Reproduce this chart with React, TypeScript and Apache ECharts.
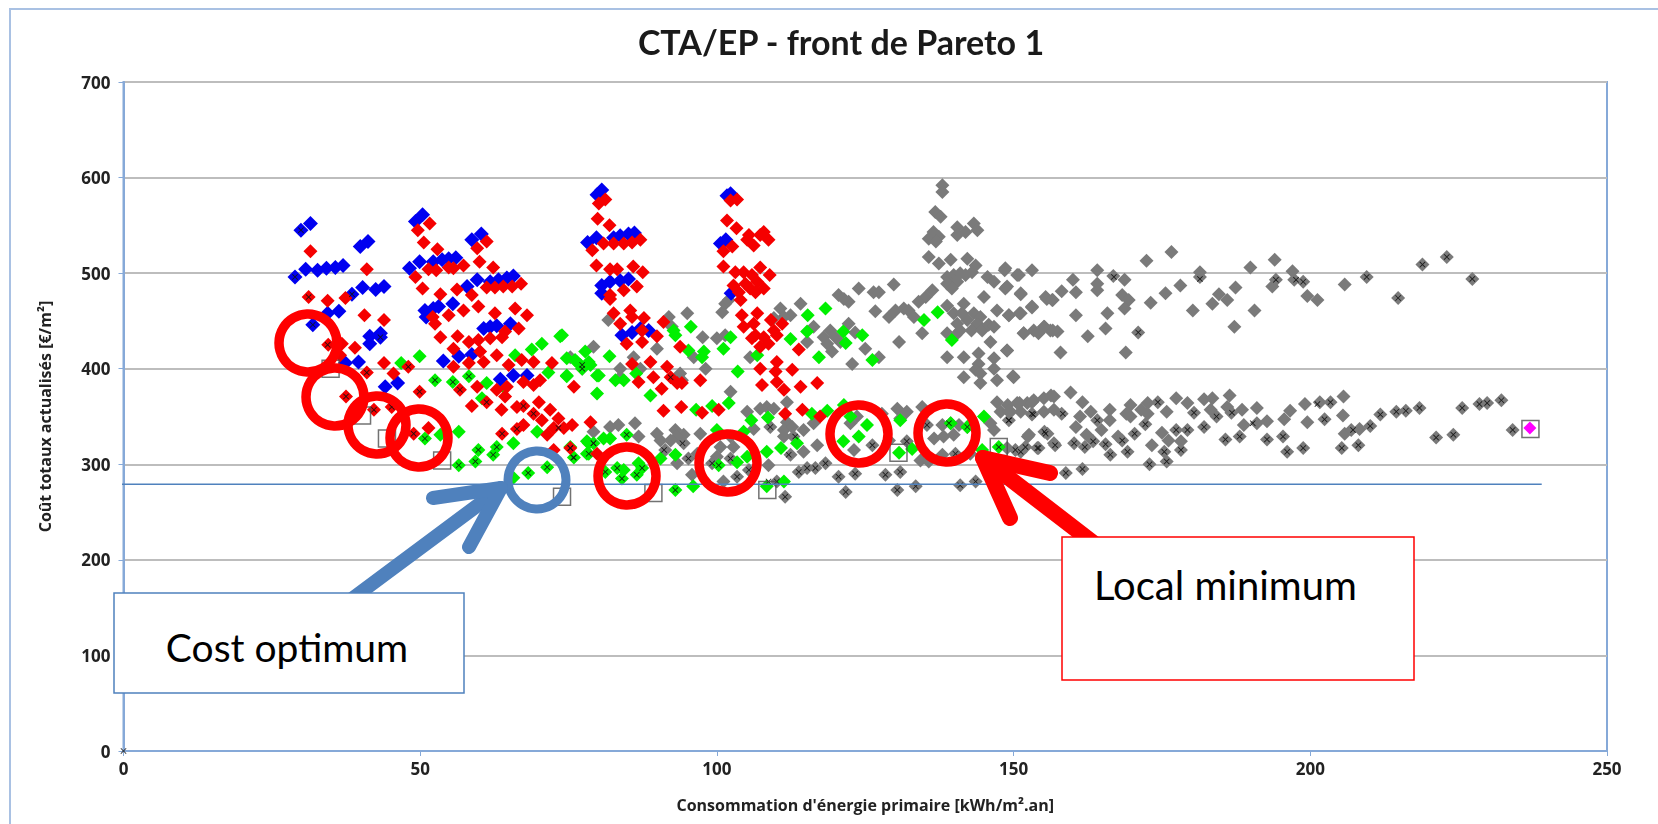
import React, { useEffect, useRef } from "react";
import * as echarts from "echarts";

const titleText = "CTA/EP - front de Pareto 1";
const xAxisName = "Consommation d'énergie primaire [kWh/m².an]";
const yAxisName = "Coût totaux actualisés [€/m²]";

const blue = [[29.9,545],[31.5,552],[28.9,496],[30.7,504],[32.7,503],[34.2,505],[35.7,506],[37,508],[39.9,528],[41.2,533],[38.5,478],[40.3,485],[42.5,483],[43.9,486],[34.4,458],[36.3,460],[31.9,446],[41.5,434],[43.3,437],[41.5,426],[43.3,433],[37.4,406],[39.6,407],[44.1,381],[46.2,385],[49.2,554],[50.4,561],[48.2,505],[49.9,512],[52.2,512],[53.7,514],[54.8,515],[56,516],[50.8,461],[53.1,465],[55.5,468],[51,454],[52.2,463],[53.9,408],[56.5,413],[58.7,415],[58.7,535],[60.3,541],[57.9,486],[59.6,493],[61.8,491],[63.2,493],[64.6,495],[65.7,497],[60.7,442],[62.9,445],[65.2,447],[61.8,444],[63.5,389],[65.7,393],[68,393],[79.8,582],[80.6,587],[78.2,532],[79.7,537],[82.6,537],[83.7,539],[85.1,541],[86.1,542],[80.6,487],[82,491],[83.7,492],[85.1,494],[80.6,479],[84,435],[85.7,438],[88.5,440],[87.1,442],[102.3,583],[101.7,581],[100.6,531],[101.5,535],[102.4,479]];

const red = [[31.5,523],[31.2,475],[34.4,471],[37.4,474],[41,504],[40.6,456],[43.9,451],[34.5,425],[36.8,426],[39,422],[41,396],[43.9,406],[45.5,395],[48,402],[37.5,371],[36.5,414],[42.2,357],[45.2,360],[49.9,376],[48.9,332],[51.4,338],[49.6,545],[51.6,552],[50.6,532],[52.9,525],[51.4,504],[52.7,503],[54.8,506],[55.6,505],[57.3,508],[49.2,496],[50.4,484],[53.4,478],[56.2,483],[58.7,477],[59.8,465],[57.3,461],[54.8,456],[52.1,454],[52.5,447],[53.4,433],[56.3,434],[55.6,421],[58.2,428],[59.8,430],[60.7,407],[58.2,406],[55.6,402],[60.1,418],[56.7,378],[59.6,381],[61.2,365],[58.7,361],[63.7,357],[62.9,378],[64.3,371],[62.9,414],[61.8,432],[63.8,433],[64.3,439],[66,463],[68,456],[66.6,442],[62.6,458],[59.6,526],[61.2,533],[60,512],[62.3,506],[61.2,485],[62.6,485],[64,486],[65.5,486],[67,489],[64.9,404],[67.1,409],[69.1,407],[72.2,406],[64.6,381],[67.4,386],[69.1,383],[70.2,388],[66.3,360],[67.4,361],[70,365],[69.1,353],[71.9,357],[70.5,346],[73.3,348],[67.4,341],[66.3,337],[63.8,332],[71.4,331],[72.5,338],[74.2,338],[75.6,341],[78.7,344],[75.3,317],[72.5,315],[79.8,311],[75.9,381],[79.9,557],[81.9,550],[81.2,577],[80.1,573],[79,524],[80.9,531],[82.6,531],[84.3,531],[85.7,532],[87.1,535],[79.7,508],[82,504],[83.2,504],[85.9,507],[87.5,501],[82,477],[84.3,482],[86.5,486],[82,473],[82.6,458],[85.4,461],[87.7,453],[83.7,447],[85.7,454],[91,449],[87.4,440],[89.9,434],[84.8,426],[87.4,428],[93.8,423],[85.7,405],[88.8,407],[91.6,402],[97.2,388],[86.8,386],[89.3,391],[90.7,379],[92.2,391],[94.1,385],[93.3,385],[91,356],[94,360],[97.5,354],[100.3,357],[102.3,576],[103.4,577],[101.7,555],[103.3,547],[102.6,528],[101.1,523],[105.1,535],[106.2,529],[107.3,540],[108.7,535],[105.4,540],[107.9,543],[101.1,507],[103.1,501],[104.5,501],[107.3,506],[108.9,498],[105.9,498],[102.8,487],[104.8,489],[106.8,491],[107.9,484],[105.6,484],[103.7,480],[106.5,480],[104,472],[104.2,456],[106.8,458],[109.1,451],[111,447],[104.5,444],[106.2,447],[109.6,440],[106.5,435],[107.9,433],[105.9,432],[108.7,426],[107.3,423],[110.1,435],[113.8,420],[110.1,407],[107.3,400],[109.9,397],[112.7,399],[116.9,385],[107.6,383],[110.1,386],[111.3,378],[114.1,381],[114.4,357],[111.5,353],[117.4,350]];

const green = [[46.8,406],[49.9,413],[52.5,388],[55.5,386],[58.2,392],[61.2,385],[60.4,369],[50.8,327],[53.4,331],[56.5,334],[56.5,299],[59.3,303],[59.8,315],[62.3,310],[62.9,318],[65.7,322],[69.7,334],[65.7,286],[68.2,291],[71.4,297],[73.6,434],[70.5,426],[68.8,420],[66,414],[64,381],[71.6,396],[74.7,392],[74.7,411],[76.4,407],[77.8,418],[78.7,404],[77.3,400],[79.8,374],[79.8,393],[78.1,324],[79.2,322],[75.3,318],[75.9,307],[78.4,311],[73.9,435],[76.1,409],[78.4,407],[77,404],[74.7,393],[80.1,393],[81.9,413],[84.3,388],[88.8,372],[78.4,322],[80.9,327],[82,327],[84.8,331],[78.1,311],[81.2,292],[83.2,296],[84.3,294],[86.8,301],[87.4,296],[84,285],[86.5,289],[93,310],[90.5,306],[93,273],[96,277],[96.5,357],[99.2,361],[102,364],[100,336],[104.5,334],[105.8,346],[108.6,349],[100.3,299],[103.4,302],[105.1,308],[108.4,313],[110.8,317],[108.4,277],[111.3,282],[116,353],[118.6,356],[121.4,362],[113.5,322],[122.5,350],[125.3,341],[123.9,329],[121.3,324],[130.7,312],[132.9,316],[145,350],[139.4,343],[142.2,339],[144.7,315],[147.5,318],[130.9,346],[92.7,440],[93,435],[95.6,444],[103.5,397],[97.8,418],[97.5,412],[95.2,419],[101.1,421],[102.3,433],[112.4,431],[115.2,439],[115.3,456],[118.3,463],[117.2,412],[121.3,439],[121.7,427],[124.5,435],[126.2,409],[134.9,451],[137.2,459],[139.6,430],[106.8,414],[86.4,395],[82.9,388]];

const grey = [[138,592],[138,585],[136.8,564],[137.7,559],[136.5,543],[135.7,536],[137.4,538],[136.9,533],[140.5,548],[140.5,540],[141.9,543],[143.3,552],[143.9,545],[135.7,517],[137.4,510],[139.4,514],[142.2,515],[143.6,508],[138.8,496],[139.9,498],[141,500],[139.4,489],[140.5,491],[141.9,498],[143,501],[138.8,489],[139.6,484],[145.6,496],[146.7,491],[148.6,505],[148.6,484],[150.9,498],[153.1,503],[151.2,479],[136.3,482],[135.2,475],[134,470],[131.5,463],[130.1,461],[132.3,461],[133.2,454],[126.7,460],[129,454],[129.8,488],[126.4,480],[123.9,484],[120.5,477],[122.2,470],[121.4,473],[127.3,480],[138.8,466],[145,475],[141.6,468],[139.9,458],[141.3,458],[143.3,458],[144.4,454],[140.5,447],[142.2,451],[143.9,447],[141,440],[142.9,440],[144.7,440],[145.8,446],[146.7,444],[138.8,437],[147.2,461],[149.2,456],[151.2,458],[153.1,465],[155.4,475],[156.5,472],[151.7,437],[153.4,440],[155.1,444],[156.2,440],[157.4,439],[146.1,428],[148.9,419],[140.2,435],[138.8,412],[141.6,412],[144.1,416],[146.7,411],[144.1,405],[143.6,399],[144.4,395],[141.6,391],[146.7,400],[144.4,385],[147.2,388],[150,391],[130.7,428],[134.6,437],[125,421],[127.3,412],[122.8,405],[122.2,447],[123.3,438],[116.3,444],[119.1,440],[118,433],[120,433],[118.6,426],[120.8,428],[119.4,418],[115.2,428],[114.1,468],[110.7,463],[112.4,456],[109.6,453],[111.3,454],[101.4,468],[100.9,459],[102,472],[100,432],[101.4,435],[105.6,412],[95,458],[91.9,454],[97.6,433],[92.4,444],[89.9,421],[96.1,412],[98.1,400],[93.8,395],[94.1,388],[87.1,400],[85.97,412],[83.7,400],[83.7,391],[79.2,423],[75.3,412],[77.3,400],[81.7,451],[102.3,376],[108.4,360],[107.3,358],[109.6,358],[105.1,355],[111.8,365],[79.2,334],[82,339],[83.4,341],[86.2,343],[86.8,329],[89.9,332],[90.5,325],[93,336],[94.4,331],[93.3,329],[92.2,325],[94.4,322],[97.2,332],[96.7,311],[93.3,301],[95.2,306],[91.3,315],[95.8,289],[100.6,318],[102.3,329],[102.8,318],[100,308],[102.3,306],[99.2,301],[101.1,282],[103.4,287],[105.4,294],[108.7,299],[109,339],[106.2,337],[111.8,344],[111.3,336],[112.7,339],[114.6,336],[116.3,343],[112.9,329],[111.3,329],[116.9,320],[114.6,313],[112.4,310],[111.5,266],[110.1,282],[118.3,301],[113.8,292],[115.2,296],[116.6,296],[120.5,287],[123.3,290],[121.7,271],[128.4,289],[130.9,292],[130.4,273],[133.5,277],[141,278],[143.6,282],[123.1,315],[126.2,320],[122.5,343],[123.6,350],[130.4,358],[132,355],[130.9,348],[134.6,360],[127.8,353],[129,325],[132,324],[135.4,341],[136.6,327],[138.2,329],[139.9,331],[138,341],[139.4,343],[140.8,341],[142.2,339],[134.3,304],[135.7,303],[138,310],[140.2,311],[142.7,311],[146.1,343],[147.2,365],[149,362],[150.6,364],[152.3,364],[153.4,367],[155.1,369],[156.8,371],[147.8,355],[149.5,355],[151.2,355],[153.1,353],[155.1,355],[156.8,357],[149.2,346],[152.6,331],[155.7,332],[156.8,322],[148.9,317],[151.2,313],[154,317],[146.7,336],[148.5,503],[150.6,498],[148.9,486],[151.2,478],[155.6,473],[156.6,472],[158.1,481],[160.5,480],[160,493],[164.1,503],[164.1,489],[164.1,482],[166.8,497],[168.7,493],[172.4,513],[176.6,522],[168.3,477],[169.4,472],[168.7,463],[173.1,469],[175.6,479],[178.1,487],[181.4,496],[181.4,501],[189.9,506],[194,514],[194.2,493],[193.6,486],[197,502],[197.3,493],[198.8,491],[187.4,485],[184.6,478],[183.5,468],[186,472],[180.2,461],[190.6,461],[187.2,444],[199.5,476],[201.2,472],[205.8,488],[209.5,496],[214.8,474],[218.9,509],[223,517],[227.3,494],[160.5,456],[165.8,458],[165.5,442],[171,438],[162.5,434],[151.7,437],[154.2,437],[155.2,444],[156.6,440],[148.9,419],[157.9,417],[168.9,417],[153.1,464],[149.2,456],[151,458],[149.9,392],[156.3,372],[159.6,375],[161.6,365],[151,364],[153.1,365],[149.2,355],[153.1,352],[158.1,353],[166.2,357],[169.7,362],[172.6,364],[174.3,365],[169,353],[171.5,357],[177.4,369],[179.3,364],[182.1,368],[183.5,369],[186.4,372],[186,360],[188.5,357],[186.7,354],[191,359],[183.2,357],[184.2,350],[180.4,354],[199.1,363],[201.6,365],[203.4,365],[205.6,371],[196.6,356],[195.6,347],[199.5,344],[202.4,347],[205.5,351],[211.8,352],[214.5,355],[216.1,356],[218.4,359],[225.6,359],[228.5,363],[229.8,364],[232.2,367],[234.1,336],[221.2,328],[224.1,331],[210.1,340],[208.3,337],[205.8,332],[206.9,336],[205.3,317],[208.1,320],[198.8,317],[196.1,313],[195.4,329],[192.7,326],[188.1,329],[185.7,326],[182.1,339],[188.8,341],[191,343],[192.7,345],[179.3,336],[177.4,336],[172.2,342],[175,333],[176.1,325],[178.2,324],[173.3,320],[178.2,315],[175.4,313],[172.9,300],[175.8,303],[169.2,313],[166.3,310],[168.3,325],[170.4,332],[165.5,321],[163.4,324],[162,318],[160.2,322],[157,320],[154.2,317],[152,318],[150.3,315],[158.8,291],[161.6,295],[155.2,334],[152.4,329],[164.1,346],[166.2,346],[169.7,350],[172.6,353],[163,355],[161.2,350],[160.5,339],[164.8,336],[167.6,329],[162.3,331],[175.8,355]];

const crossMarks = [[0,0],[31.2,475],[29.9,545],[28.9,496],[31.9,446],[34.4,425],[43.3,433],[38.5,478],[41,396],[48,402],[37.5,371],[42.2,357],[45.2,360],[49.9,376],[48.9,332],[50.8,327],[52.5,388],[55.5,386],[56.7,378],[58.2,392],[61.2,365],[67.4,361],[69.1,353],[63.8,332],[66.3,337],[73.3,338],[75.3,317],[79.2,322],[77.3,400],[56.5,299],[59.3,303],[59.8,315],[62.3,310],[62.9,318],[68.2,291],[71.4,297],[75.9,307],[78.4,311],[77.3,404],[75.3,317],[79.2,322],[75.8,307],[81.2,292],[83.2,296],[84,285],[86.5,289],[87.4,296],[84.8,331],[93,273],[91.1,315],[94.2,322],[95.2,306],[92.2,391],[100.3,299],[102.3,306],[99.2,301],[103.4,287],[105.4,294],[108.7,282],[110.1,282],[111.5,266],[112.1,310],[113.2,329],[109,339],[118.3,301],[113.8,292],[115.2,296],[116.6,296],[120.5,287],[123.3,290],[121.7,271],[128.4,289],[130.9,292],[130.4,273],[133.5,277],[141,278],[143.6,282],[126.2,320],[135.4,341],[139.1,343],[142.2,339],[140.2,311],[149.2,346],[153.1,353],[151.2,313],[154,317],[155.4,332],[147.5,318],[132,324],[166.9,496],[181.4,494],[194.2,493],[197.6,493],[198.8,491],[209.5,496],[214.8,474],[218.9,509],[223,517],[227.3,494],[171,438],[174.3,365],[164.1,346],[149.2,346],[153.3,352],[158.3,353],[180.4,354],[184.2,350],[186.8,354],[190.3,343],[202.4,347],[201.2,363],[203.4,365],[211.8,352],[214.5,355],[216.1,356],[218.4,359],[225.6,359],[228.5,363],[229.8,364],[232.2,367],[234.1,336],[221.2,328],[224.1,331],[210.1,340],[207.2,336],[205.3,317],[208.1,320],[198.8,317],[196.1,313],[195.4,329],[192.7,326],[188.1,329],[185.7,326],[182.1,339],[179.3,336],[177.4,336],[172.2,342],[178.2,315],[175.4,313],[172.9,300],[175.8,303],[169.2,313],[166.3,310],[168.3,325],[170.4,332],[165.5,321],[163.4,324],[162,318],[160.2,322],[157,320],[154.2,317],[152,318],[150.3,315],[158.8,291],[161.6,295],[155.2,334],[237,338]];

const referenceBoxes = [[34.9,400],[40.2,351],[44.4,327],[53.7,304],[73.9,266],[89.3,270],[108.5,273],[130.6,312],[147.5,318],[237.1,337]];
const highlighted = [[237,338]];
const costLine = [[-1.7,279],[239,279]];

const AXIS_BLUE = "#86a9d8";
const crossPath = "path://M1 0 L5 4 L9 0 L10 1 L6 5 L10 9 L9 10 L5 6 L1 10 L0 9 L4 5 L0 1 Z";

const redCircles = [[308,343],[335,397],[377,425],[419,438],[627,476],[728,463],[859,434],[947,433]];

function arrow(points: number[][], stroke: string, lineWidth: number) {
  return { type: "polyline", shape: { points }, style: { fill: "none", stroke, lineWidth, lineCap: "round", lineJoin: "round" }, z: 60 };
}

export default function App() {
  const ref = useRef<HTMLDivElement>(null);
  const overlayRef = useRef<HTMLDivElement>(null);
  useEffect(() => {
    document.body.style.margin = "0";
    const chart = echarts.init(ref.current!, undefined, { renderer: "svg" });
    const overlay = echarts.init(overlayRef.current!, undefined, { renderer: "svg" });
    const diamond = (name: string, data: number[][], color: string, size = 14, z = 2) => ({
      name, type: "scatter", data, symbol: "diamond", symbolSize: size,
      itemStyle: { color, opacity: 1 }, z, silent: true,
    });
    chart.setOption({
      animation: false,
      backgroundColor: "#fff",
      title: {
        text: titleText, left: 836, top: 19, textAlign: "center",
        textStyle: { fontFamily: "Lato", fontWeight: "bold", fontSize: 34, color: "#1a1a1a" },
      },
      grid: { left: 123.5, top: 82, width: 1483.5, height: 669, show: true, borderColor: AXIS_BLUE, borderWidth: 2, backgroundColor: "transparent" },
      xAxis: {
        type: "value", min: 0, max: 250, interval: 50,
        name: xAxisName, nameLocation: "middle", nameGap: 46,
        nameTextStyle: { fontFamily: "Open Sans", fontWeight: "bold", fontSize: 16, color: "#222" },
        axisLine: { show: true, onZero: false, lineStyle: { color: AXIS_BLUE, width: 2 } },
        axisTick: { show: true, length: 5, lineStyle: { color: AXIS_BLUE } },
        axisLabel: { fontFamily: "Open Sans", fontWeight: "bold", fontSize: 17, color: "#222", margin: 9 },
        splitLine: { show: false },
      },
      yAxis: {
        type: "value", min: 0, max: 700, interval: 100,
        name: yAxisName, nameLocation: "middle", nameGap: 71, nameRotate: 90,
        nameTextStyle: { fontFamily: "Open Sans", fontWeight: "bold", fontSize: 16, color: "#222" },
        axisLine: { show: true, lineStyle: { color: AXIS_BLUE, width: 2 } },
        axisTick: { show: true, length: 5, lineStyle: { color: AXIS_BLUE } },
        axisLabel: { fontFamily: "Open Sans", fontWeight: "bold", fontSize: 17, color: "#222", margin: 13 },
        splitLine: { show: true, lineStyle: { color: "#bdbdbd", width: 2 } },
      },
      series: [
        diamond("Grey", grey, "#7a7a7a", 14, 2),
        diamond("Green", green, "#00f000", 14, 3),
        diamond("Blue", blue, "#0000f0", 15, 4),
        diamond("Red", red, "#f50000", 14, 5),
        { name: "Front", type: "scatter", data: crossMarks, symbol: crossPath, symbolSize: 6, itemStyle: { color: "#111", opacity: 0.9 }, z: 6, silent: true },
        { name: "Reference", type: "scatter", data: referenceBoxes, symbol: "rect", symbolSize: 17, itemStyle: { color: "transparent", borderColor: "#4f4f4f", borderWidth: 1.5 }, z: 7, silent: true },
        diamond("Highlight", highlighted, "#ff00ff", 13, 8),
        { name: "Cost level", type: "line", data: costLine, symbol: "none", clip: false, lineStyle: { color: "#4f81bd", width: 1.5 }, z: 9, silent: true },
      ],
      graphic: [
        { type: "polyline", shape: { points: [[10, 824], [10, 9], [1658, 9]] }, style: { fill: "none", stroke: "#a9c1e3", lineWidth: 2 }, z: 0, silent: true },
      ],
    });
    overlay.setOption({
      animation: false,
      backgroundColor: "transparent",
      graphic: [
        ...redCircles.map(([x, y]) => ({ type: "circle", shape: { cx: x, cy: y, r: 29 }, style: { fill: "none", stroke: "#ff0000", lineWidth: 9.5 }, z: 50, silent: true })),
        { type: "circle", shape: { cx: 537, cy: 480, r: 29 }, style: { fill: "none", stroke: "#4f81bd", lineWidth: 9 }, z: 50, silent: true },
        arrow([[345, 604], [501, 488]], "#4f81bd", 14),
        arrow([[433, 498], [501, 488], [469, 547]], "#4f81bd", 14),
        arrow([[1100, 548], [983, 458]], "#ff0000", 16),
        arrow([[1050, 473], [983, 458], [1010, 518]], "#ff0000", 16),
        { type: "rect", shape: { x: 114, y: 593, width: 350, height: 100 }, style: { fill: "#fff", stroke: "#4f81bd", lineWidth: 1.5 }, z: 70, silent: true },
        { type: "text", x: 287, y: 647, style: { text: "Cost optimum", font: "39px Lato", fill: "#000", textAlign: "center", textVerticalAlign: "middle" }, z: 71, silent: true },
        { type: "rect", shape: { x: 1062, y: 537, width: 352, height: 143 }, style: { fill: "#fff", stroke: "#ff0000", lineWidth: 1.5 }, z: 70, silent: true },
        { type: "text", x: 1094, y: 585, style: { text: "Local minimum", font: "40px Lato", fill: "#000", textAlign: "left", textVerticalAlign: "middle" }, z: 71, silent: true },
      ],
    });
    return () => {
      chart.dispose();
      overlay.dispose();
    };
  }, []);
  return (
    <div style={{ position: "relative", width: 1658, height: 824, overflow: "hidden" }}>
      <div ref={ref} style={{ position: "absolute", left: 0, top: 0, width: 1658, height: 824, filter: "blur(0.7px)" }} />
      <div ref={overlayRef} style={{ position: "absolute", left: 0, top: 0, width: 1658, height: 824 }} />
    </div>
  );
}
